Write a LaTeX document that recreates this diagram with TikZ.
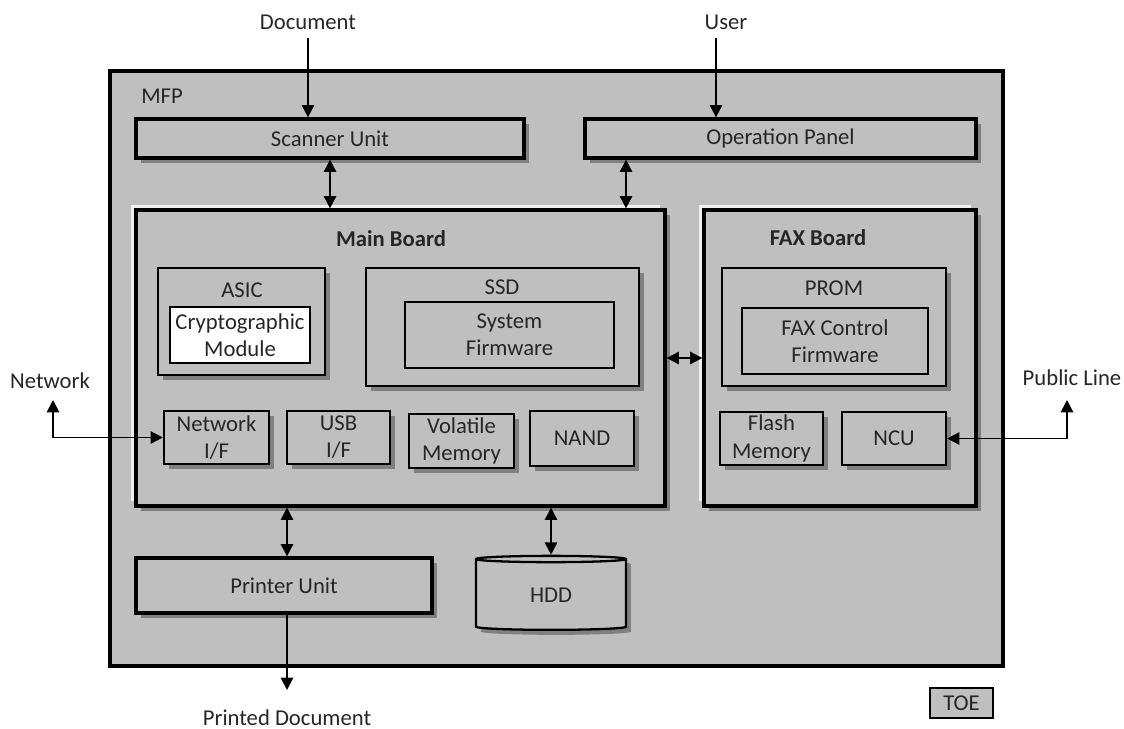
\documentclass[tikz,border=0pt]{standalone}
\usepackage{fontspec}
\setmainfont{Carlito}
\usetikzlibrary{shadows,shapes.geometric,arrows.meta}
\tikzset{>={Triangle[length=7pt,width=7pt]}}
\tikzset{
  every node/.style={font=\fontsize{12.9}{15.5}\selectfont, text=black!85},
  box/.style={draw=black, line width=1.3pt, fill=black!25, align=center, inner sep=0pt},
  shadowed/.style={drop shadow={shadow xshift=0.1cm, shadow yshift=-0.1cm, fill=black!50, opacity=1}},
  part/.style={box, shadowed},
  unit/.style={part, line width=1.9pt},
  board/.style={unit, drop shadow={shadow xshift=-0.1cm, shadow yshift=0.1cm, fill=black!6, opacity=1}},
  title/.style={font=\fontsize{12.9}{15.5}\selectfont\bfseries},
  link/.style={line width=1.1pt}
}

\begin{document}
\begin{tikzpicture}[x=0.02cm, y=-0.02cm]
    \useasboundingbox (0,0) rectangle (1124,729);
    \node[box, line width=1.9pt, minimum width=17.86cm, minimum height=11.9cm] (mfp) at (556.5,368.5) {};
    \node (mfptxt) at (162,96) {MFP};
    \node[unit, minimum width=7.76cm, minimum height=0.78cm] (scanner) at (330,138.5) {Scanner Unit};
    \node[unit, minimum width=7.82cm, minimum height=0.78cm] (panel) at (780.5,138.5) {Operation Panel};
    \node[board, minimum width=10.58cm, minimum height=5.92cm] (main) at (400.5,358) {};
    \node[title] (maintxt) at (391,239) {Main Board};
    \node[board, minimum width=5.44cm, minimum height=5.92cm] (fax) at (840,358) {};
    \node[title] (faxtxt) at (818,238) {FAX Board};
    \node[part, minimum width=3.34cm, minimum height=2.14cm] (asic) at (241.5,321.5) {};
    \node (asictxt) at (242,290) {ASIC};
    \node[box, fill=white, minimum width=2.8cm, minimum height=1.12cm] (crypto) at (240,335) {Cryptographic\\Module};
    \node[part, minimum width=5.46cm, minimum height=2.36cm] (ssd) at (502.5,327) {};
    \node (ssdtxt) at (502,287) {SSD};
    \node[box, minimum width=4.18cm, minimum height=1.32cm] (sysfw) at (509.5,335) {System\\Firmware};
    \node[part, minimum width=2.1cm, minimum height=1.06cm] (netif) at (216.5,437.5) {Network\\I/F};
    \node[part, minimum width=2.06cm, minimum height=1.06cm] (usbif) at (338.5,437.5) {USB\\I/F};
    \node[part, minimum width=2.1cm, minimum height=1.08cm] (volatile) at (461.5,441) {Volatile\\Memory};
    \node[part, minimum width=2.08cm, minimum height=1.1cm] (nand) at (582,438.5) {NAND};
    \node[part, minimum width=4.48cm, minimum height=2.36cm] (prom) at (834,327) {};
    \node (promtxt) at (834,288) {PROM};
    \node[box, minimum width=3.72cm, minimum height=1.32cm] (faxfw) at (835,341) {FAX Control\\Firmware};
    \node[part, minimum width=2.06cm, minimum height=1.06cm] (flash) at (771.5,438.5) {Flash\\Memory};
    \node[part, minimum width=2.08cm, minimum height=1.06cm] (ncu) at (894,438.5) {NCU};
    \node[unit, minimum width=5.92cm, minimum height=1.1cm] (printer) at (284,585.5) {Printer Unit};
    \node[part, cylinder, shape border rotate=90, aspect=0.15, minimum width=3cm, minimum height=1.48cm,
          cylinder uses custom fill, cylinder end fill=black!12, cylinder body fill=black!25] (hdd) at (551,595) {HDD};
    \node[box, line width=1pt, minimum width=1.26cm, minimum height=0.6cm] (toe) at (961.5,703) {TOE};
    \node (doctxt) at (308,22) {Document};
    \node (usertxt) at (726,22) {User};
    \node (nettxt) at (50,381) {Network};
    \node (pubtxt) at (1072,378) {Public Line};
    \node (printtxt) at (287,718) {Printed Document};
    \coordinate (docend) at (308,38);
    \coordinate (userend) at (716,38);
    \coordinate (netend) at (53,400);
    \coordinate (pubend) at (1067,400);
    \coordinate (printend) at (287,690);
    \draw[link, ->] (docend) -- (docend |- scanner.north);
    \draw[link, ->] (userend) -- (userend |- panel.north);
    \draw[link, <->] (scanner.south) -- (scanner.south |- main.north);
    \draw[link, <->] (626,0 |- panel.south) -- (626,0 |- main.north);
    \draw[link, <->] (main.east) -- (fax.west);
    \draw[link, <->] (netend) |- (netif.west);
    \draw[link, <->] (pubend) |- (ncu.east);
    \draw[link, <->] (287,0 |- main.south) -- (287,0 |- printer.north);
    \draw[link, <->] (hdd.north |- main.south) -- (hdd.north);
    \draw[link, ->] (printend |- printer.south) -- (printend);
\end{tikzpicture}
\end{document}
